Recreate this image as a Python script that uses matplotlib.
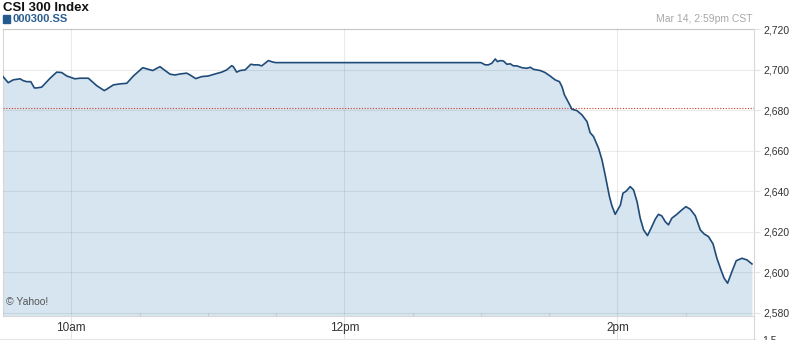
import matplotlib
matplotlib.use('Agg')
import matplotlib.pyplot as plt
from matplotlib.lines import Line2D

plt.rcParams['font.family'] = ['Liberation Sans', 'DejaVu Sans']

# minutes after the 9:30 open, CSI 300 index level
am_minutes = [0, 2.3, 4.5, 7.5, 8.9, 10.4, 12.2, 13.8, 14.8, 17.0,
              20.7, 23.6, 25.8, 28.0, 31.6, 33.8, 37.5, 41.2, 44.5, 45.6,
              48.5, 51.4, 54.4, 57.3, 59.5, 61.4, 63.9, 65.8, 67.6, 69.0,
              70.5, 73.4, 75.6, 77.8, 80.7, 82.2, 84.7, 87.3, 90.2, 93.2,
              96.1, 98.3, 100.5, 101.2, 102.7, 104.2, 106.4, 108.9, 110.3, 112.2,
              113.7, 116.6, 118.8, 120.0]
am_prices = [2696.7, 2693.7, 2695.1, 2695.6, 2694.7, 2694.2, 2694.2, 2691.1, 2691.1, 2691.5,
             2695.9, 2698.9, 2698.7, 2697.0, 2695.6, 2695.9, 2695.9, 2692.2, 2689.8, 2690.5,
             2692.6, 2693.1, 2693.4, 2697.0, 2699.2, 2701.1, 2700.3, 2699.7, 2700.8, 2701.6,
             2700.3, 2697.9, 2697.5, 2698.0, 2698.4, 2697.5, 2695.7, 2696.7, 2697.0, 2698.0,
             2698.9, 2700.0, 2702.1, 2701.6, 2698.9, 2699.7, 2700.0, 2702.8, 2702.5, 2702.5,
             2702.0, 2704.6, 2703.8, 2703.6]
pm_minutes = [210.0, 211.9, 213.3, 214.8, 216.3, 217.3, 218.5, 219.9, 221.4, 222.9,
              224.3, 225.8, 228.0, 230.2, 231.7, 233.1, 236.1, 238.2, 240.4, 242.6,
              244.5, 245.6, 246.7, 248.5, 250.0, 252.2, 254.4, 256.6, 258.0, 259.5,
              261.7, 263.2, 264.6, 266.5, 267.6, 269.0, 271.3, 272.4, 273.9, 275.6,
              277.1, 278.6, 280.0, 281.5, 283.2, 285.1, 286.6, 288.0, 289.5, 291.0,
              292.4, 293.9, 296.1, 298.3, 300.1, 302.0, 304.2, 306.4, 308.1, 310.0,
              312.0, 313.7, 315.5, 316.9, 318.4, 320.3, 322.2, 324.7, 326.9, 329.1]
pm_prices = [2703.6, 2702.5, 2702.5, 2703.3, 2705.4, 2704.1, 2704.6, 2704.4, 2702.8, 2703.0,
             2702.0, 2702.0, 2701.1, 2700.8, 2701.3, 2700.3, 2699.7, 2698.7, 2697.0, 2695.1,
             2694.2, 2691.8, 2687.7, 2683.9, 2680.6, 2679.9, 2677.8, 2674.5, 2669.0, 2667.1,
             2661.3, 2655.6, 2648.1, 2637.4, 2632.8, 2628.7, 2633.3, 2639.1, 2640.2, 2642.4,
             2640.7, 2635.0, 2626.8, 2621.0, 2618.2, 2622.6, 2626.3, 2628.7, 2627.9, 2625.1,
             2623.5, 2626.8, 2628.7, 2630.9, 2632.5, 2631.2, 2628.0, 2621.0, 2619.0, 2617.7,
             2614.1, 2607.0, 2601.2, 2597.1, 2594.7, 2600.4, 2605.8, 2607.0, 2606.2, 2604.2]
prev_close = 2681.0

y_ticks = [2580, 2600, 2620, 2640, 2660, 2680, 2700, 2720]
x_ticks = [30, 150, 270]
x_labels = ['10am', '12pm', '2pm']

minutes = am_minutes + pm_minutes
prices = am_prices + pm_prices

grid_c = '#e4e4e4'
fig = plt.figure(figsize=(7.93, 3.40), dpi=100)
W, H = 793, 340
ax = fig.add_axes([3 / W, 24 / H, 751 / W, 287 / H])
ymin, ymax = 2578.5, 2720.2
ax.set_xlim(0, 330)
ax.set_ylim(ymin, ymax)

ax.fill_between(minutes, prices, ymin, color='#d6e5f0', lw=0, zorder=1)
ax.plot(minutes, prices, color='#1f4b78', lw=1.2, zorder=4)
ax.axhline(prev_close, color='#cc3b2b', lw=0.8, ls=(0, (1, 1.5)), zorder=3)

# grid over the fill, faint
ax.set_yticks(y_ticks)
ax.set_yticklabels([f'{v:,}' for v in y_ticks])
ax.set_xticks(x_ticks)
ax.set_xticklabels(x_labels)
ax.set_xticks([60, 90, 120, 180, 210, 240, 300], minor=True)
ax.grid(True, which='major', color='#000000', alpha=0.08, lw=0.8, zorder=2)
ax.set_axisbelow(False)

ax.yaxis.tick_right()
ax.tick_params(axis='y', length=4, color=grid_c, pad=3, labelsize=7.5, labelcolor='#333333')
ax.tick_params(axis='x', which='major', length=16.6, color=grid_c, pad=-12.5,
               labelsize=8.5, labelcolor='#333333')
ax.tick_params(axis='x', which='minor', direction='in', length=2.5, color='#c8c8c8')
for s in ax.spines.values():
    s.set_color('#d8d8d8')
    s.set_linewidth(0.8)

ax.text(0.004, 0.03, '\u00a9 Yahoo!', transform=ax.transAxes, fontsize=7.5,
        color='#555555', va='bottom', ha='left', zorder=5)

# header
fig.text(3 / W, 1 - 11 / H, 'CSI 300 Index', fontsize=9.5, fontweight='bold',
         color='#111111', va='baseline')
fig.patches.append(plt.Rectangle((3 / W, 1 - 22.5 / H), 6.5 / W, 7.5 / H,
                                 transform=fig.transFigure, color='#245a90'))
fig.text(12.5 / W, 1 - 22.5 / H, '000300.SS', fontsize=8, fontweight='bold',
         color='#2b5d90', va='baseline')
fig.text(752 / W, 1 - 22 / H, 'Mar 14, 2:59pm CST', fontsize=7.5,
         color='#a8a8a8', va='baseline', ha='right')

# top of the volume panel below, cut off
fig.add_artist(Line2D([0, 755 / W], [1 / H, 1 / H], color=grid_c, lw=0.8))
fig.add_artist(Line2D([754 / W, 754 / W], [0, 24 / H], color='#d8d8d8', lw=0.8))
fig.text(762 / W, 4 / H, '1.5', fontsize=7.5, color='#333333', va='top')

fig.savefig('out.png', dpi=100)
